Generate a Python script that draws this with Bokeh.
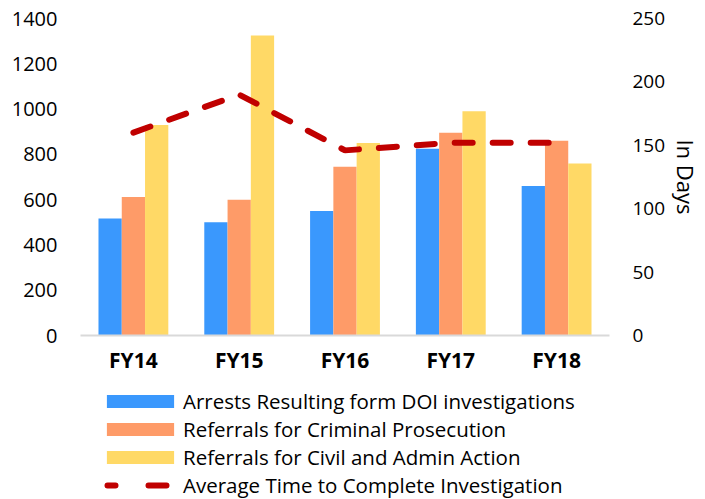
from bokeh.plotting import figure
from bokeh.layouts import column
from bokeh.models import (FactorRange, Range1d, LinearAxis, Legend, LegendItem,
                          ColumnDataSource, SingleIntervalTicker)
from bokeh.transform import dodge
from bokeh.embed import file_html
from bokeh.resources import INLINE

years = ["FY14", "FY15", "FY16", "FY17", "FY18"]
arrests = [517, 500, 550, 825, 660]
criminal = [612, 600, 745, 895, 860]
civil = [930, 1325, 850, 990, 760]
avg_days = [160, 190, 146, 152, 152]

series_names = ["Arrests Resulting form DOI investigations",
                "Referrals for Criminal Prosecution",
                "Referrals for Civil and Admin Action",
                "Average Time to Complete Investigation"]
colors = ["#3A98FD", "#FE9B68", "#FFD966", "#C00000"]

FONT = "Open Sans"

src = ColumnDataSource(dict(x=years, a=arrests, c=criminal, v=civil, d=avg_days))

# ---------- main chart ----------
p = figure(x_range=FactorRange(factors=years, range_padding=0),
           y_range=Range1d(0, 1400),
           width=705, height=380,
           min_border_left=80, min_border_right=96, min_border_top=18, min_border_bottom=45,
           output_backend="svg", toolbar_location=None)
p.extra_y_ranges = {"days": Range1d(0, 250)}

bw = 0.22
p.vbar(x=dodge("x", -bw, range=p.x_range), top="a", width=bw, source=src,
       color=colors[0], line_color=None)
p.vbar(x=dodge("x", 0, range=p.x_range), top="c", width=bw, source=src,
       color=colors[1], line_color=None)
p.vbar(x=dodge("x", bw, range=p.x_range), top="v", width=bw, source=src,
       color=colors[2], line_color=None)
p.line(x="x", y="d", source=src, y_range_name="days", line_color=colors[3],
       line_width=6, line_dash="18 20", line_cap="round")

p.outline_line_color = None
p.xgrid.visible = False
p.ygrid.visible = False

xa = p.xaxis[0]
xa.axis_line_color = "#D9D9D9"
xa.axis_line_width = 2
xa.major_tick_line_color = None
xa.minor_tick_line_color = None
xa.major_label_text_font = FONT
xa.major_label_text_font_style = "bold"
xa.major_label_text_font_size = "21px"
xa.major_label_text_color = "#000000"
xa.major_label_standoff = 4

ya = p.yaxis[0]
ya.ticker = SingleIntervalTicker(interval=200)
ya.axis_line_color = None
ya.major_tick_line_color = None
ya.minor_tick_line_color = None
ya.major_label_text_font = FONT
ya.major_label_text_font_size = "20px"
ya.major_label_text_color = "#000000"
ya.major_label_standoff = 17

ra = LinearAxis(y_range_name="days", ticker=SingleIntervalTicker(interval=50),
                axis_label="In Days")
ra.axis_line_color = None
ra.major_tick_line_color = None
ra.minor_tick_line_color = None
ra.major_label_text_font = FONT
ra.major_label_text_font_size = "19px"
ra.major_label_text_color = "#000000"
ra.major_label_standoff = 17
ra.axis_label_text_font = FONT
ra.axis_label_text_font_size = "22px"
ra.axis_label_text_font_style = "normal"
ra.axis_label_text_color = "#000000"
ra.axis_label_standoff = 3
p.add_layout(ra, "right")

# ---------- legend panel ----------
lg = figure(x_range=Range1d(0, 1), y_range=Range1d(0, 1), width=705, height=119,
            min_border=0, output_backend="svg", toolbar_location=None)
lg.axis.visible = False
lg.grid.visible = False
lg.outline_line_color = None
nan = float("nan")
e1 = lg.vbar(x=[nan], top=[nan], width=0.1, color=colors[0], line_color=None)
e2 = lg.vbar(x=[nan], top=[nan], width=0.1, color=colors[1], line_color=None)
e3 = lg.vbar(x=[nan], top=[nan], width=0.1, color=colors[2], line_color=None)
e4 = lg.line(x=[nan], y=[nan], line_color=colors[3], line_width=6,
             line_dash="8 33 18 40", line_dash_offset=90, line_cap="round")

legend = Legend(items=[LegendItem(label=series_names[0], renderers=[e1]),
                       LegendItem(label=series_names[1], renderers=[e2]),
                       LegendItem(label=series_names[2], renderers=[e3]),
                       LegendItem(label=series_names[3], renderers=[e4])],
                location=(18, 0), orientation="vertical",
                glyph_width=84, glyph_height=16, label_height=27, spacing=0,
                label_standoff=1, padding=0, margin=0,
                label_text_font=FONT, label_text_font_size="20.5px",
                label_text_color="#000000",
                border_line_color=None, background_fill_alpha=0)
lg.add_layout(legend, "center")

layout = column(p, lg, spacing=0)
open("out.html", "w").write(file_html(layout, INLINE))
